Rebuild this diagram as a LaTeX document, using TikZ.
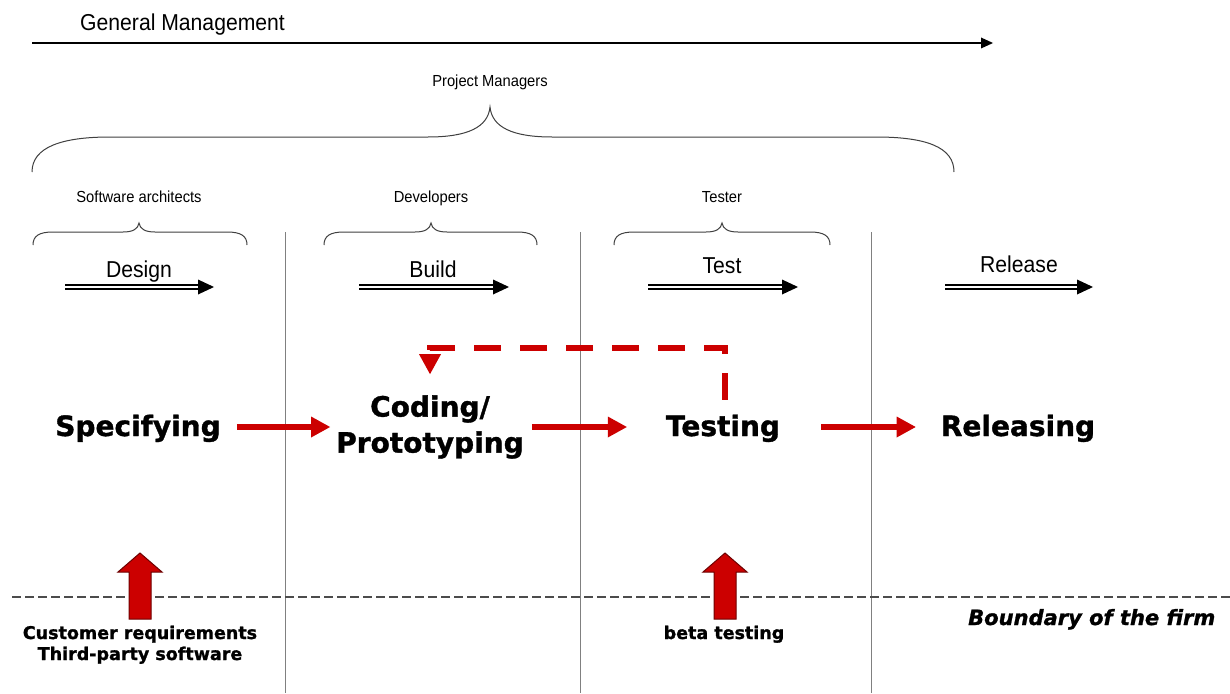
\documentclass[tikz,border=0pt]{standalone}
\usepackage{fontspec}
\setmainfont{Liberation Sans}
\newfontfamily\narrowf[FakeStretch=0.92]{Liberation Sans}
\newfontfamily\heavyf[BoldFeatures={FakeBold=1.2},BoldItalicFeatures={FakeBold=1.2}]{DejaVu Sans}
\usetikzlibrary{arrows.meta}
\definecolor{myred}{HTML}{CC0000}
\definecolor{darkred}{HTML}{6E0000}
\definecolor{vgray}{HTML}{808080}
\begin{document}
\begin{tikzpicture}[x=1pt,y=-1pt,
 txt/.style={inner sep=0pt, anchor=base},
 big/.style={txt, font=\narrowf\fontsize{23}{27}\selectfont},
 small/.style={txt, font=\narrowf\fontsize{16}{19}\selectfont},
 heavy/.style={inner sep=0pt, font=\heavyf\bfseries\fontsize{28}{36}\selectfont},
 foot/.style={txt, font=\heavyf\bfseries\fontsize{17.5}{21}\selectfont},
 brace/.style={draw=black!75, line width=1pt},
 divider/.style={draw=vgray, line width=1pt},
 flow/.style={draw=myred, line width=6pt, -{Triangle[length=19pt,width=21pt,line width=0pt]}},
 fb/.style={draw=myred, line width=6pt, dash pattern=on 27pt off 19pt, -{Triangle[length=20pt,width=22pt,line width=0pt,sep=8pt]}},
 dbl/.style={draw=black, double=white, double distance=2pt, line width=1.7pt},
 block/.style={fill=myred, draw=darkred, line width=1pt},
 bound/.style={draw=black!70, line width=1.3pt, dash pattern=on 9pt off 4pt},
]
\useasboundingbox (0,0) rectangle (1230,693);
\fill[white] (0,0) rectangle (1230,693);

% column dividers
\foreach \x in {285,580,871} \draw[divider] (\x,232) -- (\x,693);

% general management
\node[txt, anchor=base west, font=\narrowf\fontsize{23}{27}\selectfont] (gm) at (80,31) {General Management};
\coordinate (gmS) at (32,43);
\coordinate (gmE) at (993,43);
\draw[line width=1.5pt, -{Triangle[length=12pt,width=11pt,line width=0pt]}] (gmS) -- (gmE);

% project managers brace
\node[small] (pm) at (490,86) {Project Managers};
\draw[brace] (32,172) .. controls (32,147) and (62,137) .. (110,137) -- (428,137)
  .. controls (468,137) and (488,127) .. (490,107)
  .. controls (492,127) and (512,137) .. (552,137) -- (876,137)
  .. controls (926,137) and (954,147) .. (954,172);

% small braces
\foreach \l/\m/\r in {33/139/247, 324/431/537, 614/722/830} {
  \draw[brace] (\l,245) .. controls (\l,236) and (\l+6,232) .. (\l+20,232) -- (\m-16,232)
    .. controls (\m-6,232) and (\m-1,229) .. (\m,223)
    .. controls (\m+1,229) and (\m+6,232) .. (\m+16,232) -- (\r-20,232)
    .. controls (\r-6,232) and (\r,236) .. (\r,245);
}
\node[small] (sa) at (139,202) {Software architects};
\node[small] (dev) at (431,202) {Developers};
\node[small] (tstr) at (722,202) {Tester};

% phases
\node[big] (design) at (139,277) {Design};
\node[big] (build) at (433,277) {Build};
\node[big] (test) at (722,273) {Test};
\node[big] (release) at (1019,272) {Release};
\foreach \a/\b in {65/214, 359/509, 648/798, 945/1093} {
  \draw[dbl] (\a,287) -- (\b-15,287);
  \fill (\b-16,279.5) -- (\b,287) -- (\b-16,294.5) -- cycle;
}

% main activities
\node[heavy, text height=22pt, text depth=4pt] (spec) at (138,427) {Specifying};
\node[heavy, align=center] (coding) at (430,427) {Coding/\\Prototyping};
\node[heavy, text height=22pt, text depth=4pt] (testing) at (723,427) {Testing};
\node[heavy, text height=22pt, text depth=4pt] (releasing) at (1018,427) {Releasing};

\draw[flow, shorten <=16pt, shorten >=6pt] (spec.east) -- (coding.west);
\draw[flow, shorten <=8pt, shorten >=39pt] (coding.east) -- (testing.west);
\draw[flow, shorten <=41pt, shorten >=25pt] (testing.east) -- (releasing.west);
\draw[fb] ([xshift=2pt,yshift=14pt]testing.north) -- ++(0,-52) -| ([yshift=13pt]coding.north);

% boundary
\draw[bound] (12,597) -- (1230,597);
\node[txt, anchor=base west, font=\heavyf\bfseries\itshape\fontsize{21}{24}\selectfont] (bnd) at (968,625) {Boundary of the firm};

% external inputs
\node[foot] (cust) at (140,639) {Customer requirements};
\node[foot] (third) at (140,660) {Third-party software};
\node[foot] (beta) at (724,639) {beta testing};
\foreach \c in {140,725}
  \draw[block] (\c-11,619) -- (\c-11,572) -- (\c-22,572) -- (\c,553) -- (\c+22,572) -- (\c+11,572) -- (\c+11,619) -- cycle;
\end{tikzpicture}
\end{document}
